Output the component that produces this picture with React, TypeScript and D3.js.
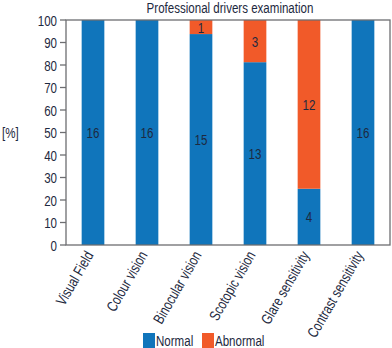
import React from "react";
import * as d3 from "d3";

const categories = ["Visual Field", "Colour vision", "Binocular vision", "Scotopic vision", "Glare sensitivity", "Contrast sensitivity"];
const normal = [16, 16, 15, 13, 4, 16];
const abnormal = [0, 0, 1, 3, 12, 0];
const yTicks = [0, 10, 20, 30, 40, 50, 60, 70, 80, 90, 100];
const seriesNames = ["Normal", "Abnormal"];
const colors = ["#1075bb", "#f15a29"];

const W = 392, H = 348;
const M = { left: 66, right: 390, top: 20, bottom: 245 };
const FONT = "'Liberation Sans', Arial, sans-serif";
const TXT = "#1d2940";
const SX = 0.77;

function CText({ x, y, rot = 0, anchor = "start", size = 15, children }: any) {
  return (
    <text
      transform={`translate(${x},${y}) rotate(${rot}) scale(${SX},1)`}
      textAnchor={anchor}
      fontFamily={FONT}
      fontSize={size}
      fill={TXT}
    >
      {children}
    </text>
  );
}

export default function App() {
  const x = d3.scaleBand<string>().domain(categories).range([M.left, M.right]).paddingInner(0.58).paddingOuter(0.29);
  const y = d3.scaleLinear().domain([0, 100]).range([M.bottom, M.top]);
  const rows = categories.map((c, i) => ({ cat: c, Normal: normal[i], Abnormal: abnormal[i] }));
  const stacked = d3.stack<any>().keys(seriesNames).offset(d3.stackOffsetExpand)(rows);

  return (
    <svg width={W} height={H} style={{ position: "absolute", left: 0, top: 0 }}>
      <rect width={W} height={H} fill="#fff" />
      <CText x={(M.left + M.right) / 2 + 2} y={13} anchor="middle" size={15}>Professional drivers examination</CText>
      {stacked.map((s, si) => (
        <g key={si}>
          {s.map((d, i) => {
            const y0 = y(d[0] * 100), y1 = y(d[1] * 100);
            const v = si === 0 ? normal[i] : abnormal[i];
            return (
              <g key={i}>
                <rect x={x(categories[i])} width={x.bandwidth()} y={y1} height={y0 - y1} fill={colors[si]} />
                {v > 0 && (
                  <CText x={x(categories[i])! + x.bandwidth() / 2} y={(y0 + y1) / 2 + 5.5} anchor="middle" size={15}>{v}</CText>
                )}
              </g>
            );
          })}
        </g>
      ))}
      <rect x={M.left} y={M.top} width={M.right - M.left} height={M.bottom - M.top} fill="none" stroke="#6d6e71" strokeWidth={1.3} />
      {yTicks.map(t => (
        <g key={t}>
          <line x1={M.left - 6} x2={M.left} y1={y(t)} y2={y(t)} stroke="#6d6e71" strokeWidth={1.3} />
          <CText x={M.left - 9} y={y(t) + 5.5} anchor="end" size={15}>{t}</CText>
        </g>
      ))}
      <CText x={2} y={y(50) + 5.5} size={15}>[%]</CText>
      {categories.map(c => {
        const cx = x(c)! + x.bandwidth() / 2;
        return (
          <CText key={c} x={cx + 1} y={M.bottom + 10} rot={-60} anchor="end" size={15}>{c}</CText>
        );
      })}
      {seriesNames.map((n, i) => {
        const lx = i === 0 ? 143 : 202;
        return (
          <g key={n}>
            <rect x={lx} y={333} width={12} height={15} fill={colors[i]} />
            <CText x={lx + 13} y={346} size={15}>{n}</CText>
          </g>
        );
      })}
    </svg>
  );
}
